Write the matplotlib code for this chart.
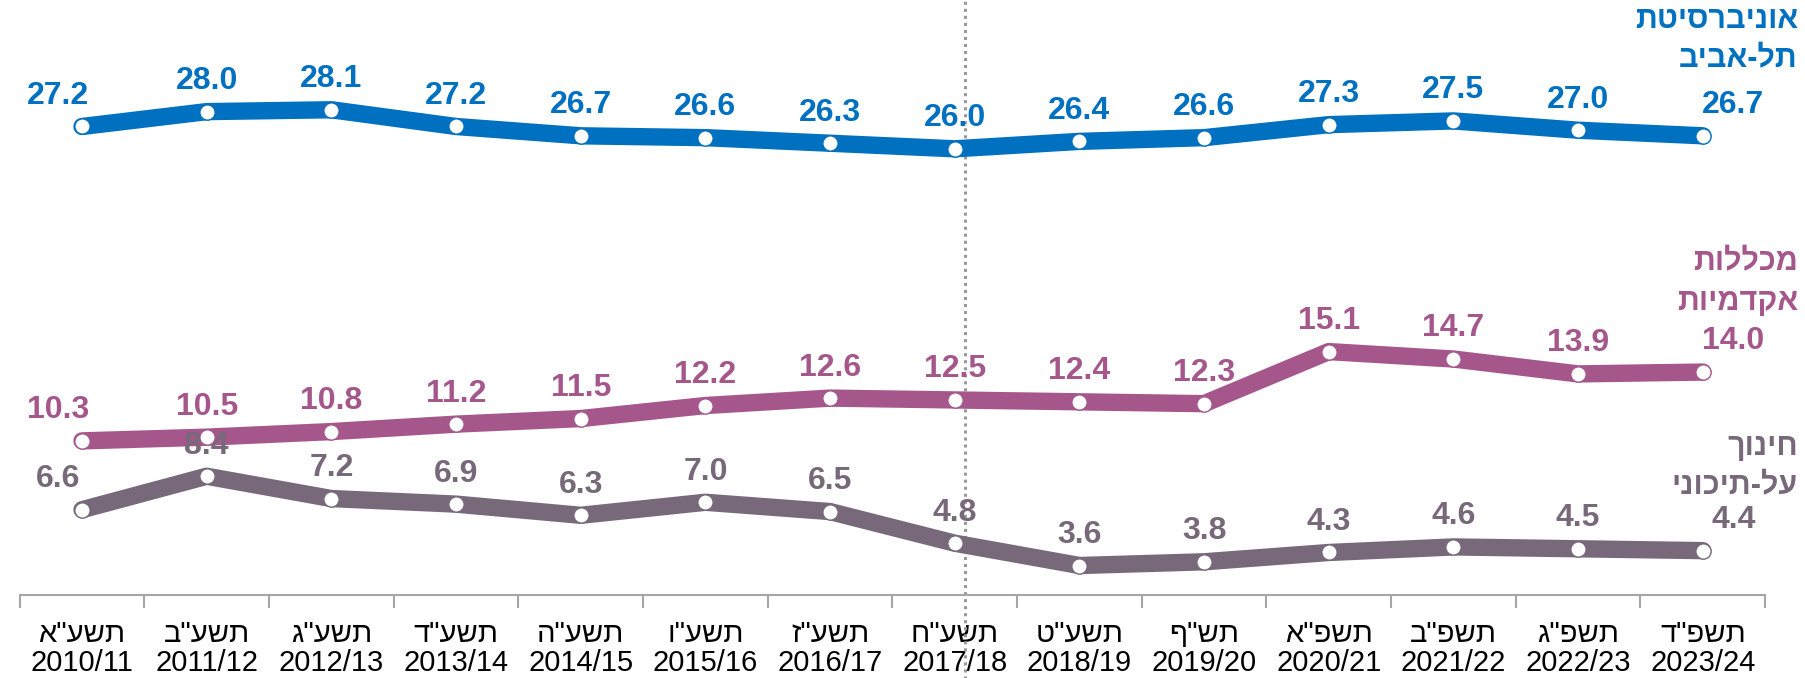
import matplotlib
matplotlib.use("Agg")
import matplotlib.pyplot as plt
import numpy as np

plt.rcParams['font.family'] = ['Liberation Sans', 'DejaVu Sans']

def heb(s):
    return "\n".join(line[::-1] for line in s.split("\n"))

years_heb = ['תשע"א', 'תשע"ב', 'תשע"ג', 'תשע"ד', 'תשע"ה', 'תשע"ו', 'תשע"ז',
             'תשע"ח', 'תשע"ט', 'תש"ף', 'תשפ"א', 'תשפ"ב', 'תשפ"ג', 'תשפ"ד']
years = ['2010/11', '2011/12', '2012/13', '2013/14', '2014/15', '2015/16', '2016/17',
         '2017/18', '2018/19', '2019/20', '2020/21', '2021/22', '2022/23', '2023/24']

tau = [27.2, 28.0, 28.1, 27.2, 26.7, 26.6, 26.3, 26.0, 26.4, 26.6, 27.3, 27.5, 27.0, 26.7]
colleges = [10.3, 10.5, 10.8, 11.2, 11.5, 12.2, 12.6, 12.5, 12.4, 12.3, 15.1, 14.7, 13.9, 14.0]
post_secondary = [6.6, 8.4, 7.2, 6.9, 6.3, 7.0, 6.5, 4.8, 3.6, 3.8, 4.3, 4.6, 4.5, 4.4]

series_names = ['אוניברסיטת\nתל-אביב', 'מכללות\nאקדמיות', 'חינוך\nעל-תיכוני']
colors = ['#0070C0', '#A5578C', '#77697A']

fig = plt.figure(figsize=(18.05, 6.78), dpi=100)
ax = fig.add_axes([0.0109, 0.122, 0.967, 0.878])

x = np.arange(len(years))
for vals, col in zip([tau, colleges, post_secondary], colors):
    ax.plot(x, vals, color=col, lw=12.5, solid_capstyle='round', solid_joinstyle='round',
            marker='o', markersize=11, markerfacecolor='white', markeredgecolor=col,
            markeredgewidth=1, zorder=3)
    n = len(vals)
    for i, v in enumerate(vals):
        dx = 0
        if i == 0:
            dx = -17
        elif i == n - 1:
            dx = 22
        ax.annotate(f"{v:.1f}", (x[i], v), xytext=(dx, 22), textcoords='offset points',
                    ha='center', va='center', fontsize=23, fontweight='bold', color=col,
                    zorder=4)

ax.set_xlim(-0.5, len(years) - 0.5)
ax.set_ylim(2, 34)

for s in ['top', 'left', 'right']:
    ax.spines[s].set_visible(False)
ax.spines['bottom'].set_color('#A6A6A6')
ax.spines['bottom'].set_linewidth(1.5)
ax.set_yticks([])
ax.set_xticks(x)
ax.set_xticklabels([heb(h) + "\n" + y for h, y in zip(years_heb, years)], fontsize=21,
                   linespacing=1.05)
ax.tick_params(axis='x', which='major', length=0, pad=18)
ax.set_xticks(np.arange(-0.5, len(years), 1), minor=True)
ax.tick_params(axis='x', which='minor', length=9, width=1.5, color='#A6A6A6', direction='out')

# dotted separator line
ax.axvline(7.08, ymin=-0.2, ymax=1.0, color='#999999', lw=2.2, ls=(0, (1, 1.3)),
           clip_on=False, zorder=2)

# series names on the right
name_y = [0.942, 0.584, 0.312]
for name, col, yy in zip(series_names, colors, name_y):
    fig.text(0.996, yy, heb(name), ha='right', va='center', multialignment='right',
             fontsize=22, fontweight='bold', color=col, linespacing=1.4)

fig.savefig('out.png', dpi=100)
